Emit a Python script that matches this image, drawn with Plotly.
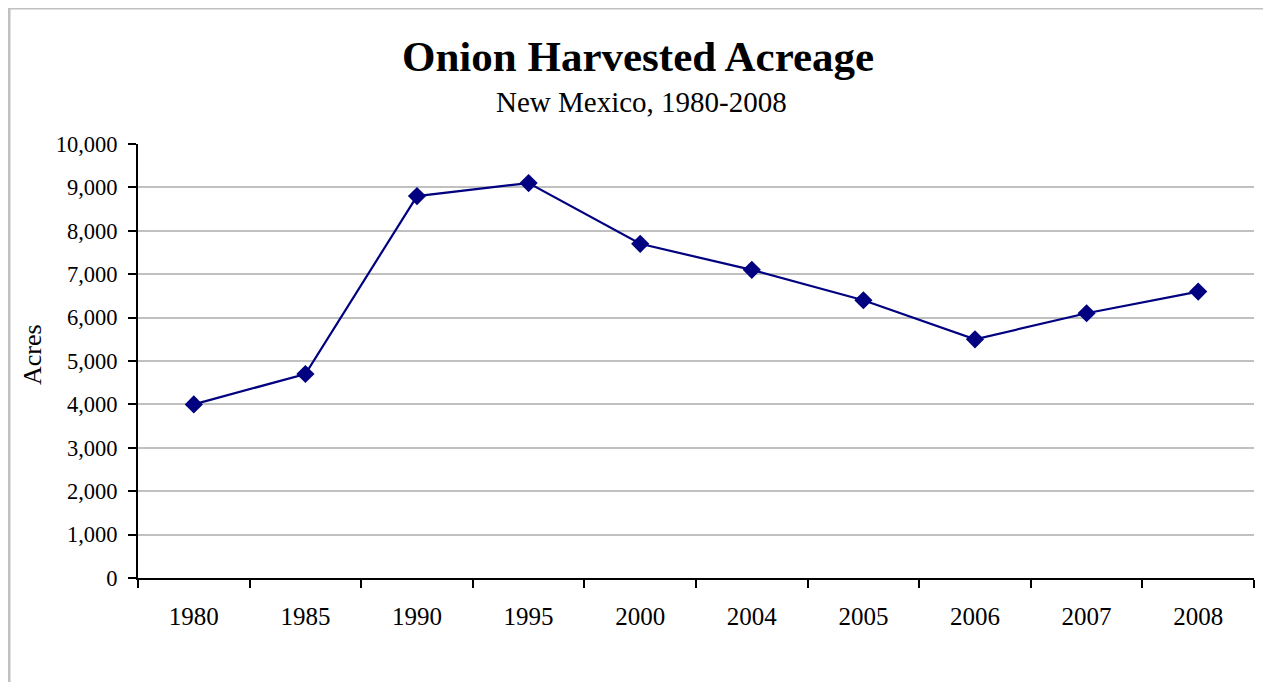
import plotly.graph_objects as go

years = ["1980", "1985", "1990", "1995", "2000", "2004", "2005", "2006", "2007", "2008"]
acres = [4000, 4700, 8800, 9100, 7700, 7100, 6400, 5500, 6100, 6600]
title_text = "Onion Harvested Acreage"
subtitle_text = "New Mexico, 1980-2008"
y_label = "Acres"

OFF = 8  # default page body margin
W, H = 1271 - OFF, 682 - OFF
# plot area in screen pixels
SL, SR, ST, SB = 138, 1254, 144, 578
L, R, T, B = SL - OFF, SR - OFF, ST - OFF, SB - OFF


def px_x(p):
    return (p - SL) / (SR - SL)


def px_y(p):
    return (SB - p) / (SB - ST)


FONT = "Liberation Serif, Times New Roman, serif"

fig = go.Figure()
fig.add_trace(go.Scatter(
    x=years, y=acres, mode="lines+markers",
    line=dict(color="#000080", width=2.2),
    marker=dict(symbol="diamond", size=14, color="#000080"),
    showlegend=False,
))

fig.update_layout(
    width=W, height=H,
    margin=dict(l=L, r=W - R, t=T, b=H - B, pad=0),
    paper_bgcolor="white", plot_bgcolor="white",
    font=dict(family=FONT, color="black", size=22),
    xaxis=dict(
        type="category", range=[-0.5, 9.5],
        showline=True, linecolor="black", linewidth=2,
        ticks="outside", tickson="boundaries", ticklen=8, tickwidth=2, tickcolor="black",
        showgrid=False, zeroline=False,
        tickfont=dict(size=25, family=FONT),
        ticklabelstandoff=15,
    ),
    yaxis=dict(
        range=[0, 10000], dtick=1000, tickformat=",",
        showline=True, linecolor="black", linewidth=2,
        ticks="outside", ticklen=8, tickwidth=2, tickcolor="black",
        showgrid=True, gridcolor="#c0c0c0", gridwidth=2,
        zeroline=False,
        tickfont=dict(size=22.5, family=FONT),
        ticklabelstandoff=6,
    ),
    annotations=[
        dict(text="<b>%s</b>" % title_text, x=px_x(638), y=px_y(57), xref="paper", yref="paper",
             xanchor="center", yanchor="middle", showarrow=False,
             font=dict(size=43, family=FONT, color="black")),
        dict(text=subtitle_text, x=px_x(641), y=px_y(102), xref="paper", yref="paper",
             xanchor="center", yanchor="middle", showarrow=False,
             font=dict(size=29, family=FONT, color="black")),
        dict(text=y_label, x=px_x(32), y=px_y(355), xref="paper", yref="paper",
             xanchor="center", yanchor="middle", showarrow=False, textangle=-90,
             font=dict(size=26, family=FONT, color="black")),
    ],
    shapes=[
        dict(type="line", xref="paper", yref="paper", x0=px_x(9), x1=px_x(9), y0=px_y(8), y1=px_y(700),
             line=dict(color="#c0c0c0", width=3)),
        dict(type="line", xref="paper", yref="paper", x0=px_x(9), x1=px_x(1300), y0=px_y(8), y1=px_y(8),
             line=dict(color="#c0c0c0", width=3)),
    ],
)

fig.write_html("out.html")
